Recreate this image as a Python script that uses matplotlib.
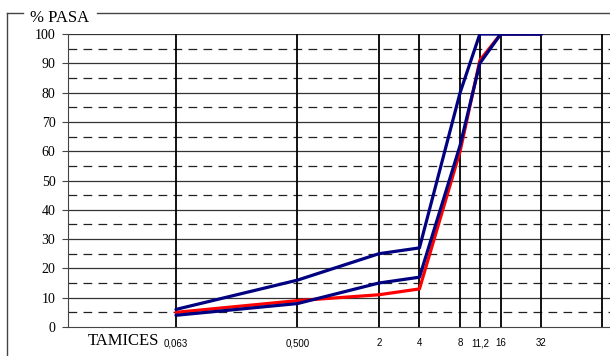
import numpy as np
import matplotlib.pyplot as plt
from matplotlib.lines import Line2D

# sieve openings (mm) and the three grading curves (% passing)
sieves = [0.063, 0.5, 2, 4, 8, 11.2, 16, 32]
sieve_labels = ['0,063', '0,500', '2', '4', '8', '11,2', '16', '32']
upper_limit = [6, 16, 25, 27, 80, 100, 100, 100]
lower_limit = [4, 8, 15, 17, 62, 90, 100, 100]
sample = [5, 9, 11, 13, 60, 91, 100, 100]
extra_line = [90]

serif = 'Liberation Serif'
sans = 'Liberation Sans'

fig = plt.figure(figsize=(6.1, 3.56), dpi=100)
ax = fig.add_axes([68/610, 29/356, 542/610, 293/356])

ax.set_xscale('log')
ax.set_xlim(0.01, 103)
ax.set_ylim(0, 100)

# horizontal grid: solid every 10, dashed in between
for v in range(10, 101, 10):
    ax.axhline(v, color='#333333', lw=0.9, zorder=1)
for v in range(5, 100, 10):
    ax.axhline(v, color='#222222', lw=0.9, ls=(0, (7, 5)), zorder=1)

# vertical lines at each sieve
for s in sieves + extra_line:
    ax.vlines(s, 0, 100, color='black', lw=1.3, zorder=2)

ax.plot(sieves, sample, color='#ff0000', lw=2.3, zorder=3, solid_capstyle='round')
ax.plot(sieves, lower_limit, color='#000080', lw=2.3, zorder=4, solid_capstyle='round')
ax.plot(sieves, upper_limit, color='#000080', lw=2.3, zorder=4, solid_capstyle='round')

ax.spines['top'].set_visible(False)
ax.spines['right'].set_visible(False)
ax.spines['left'].set_color('#444444')
ax.spines['bottom'].set_color('#444444')

ax.set_yticks(range(0, 101, 10))
ax.set_yticklabels([str(v) for v in range(0, 101, 10)], family=serif, fontsize=10)
ax.tick_params(axis='y', length=4, width=0.8, color='#444444', pad=5)

ax.set_xticks(sieves)
ax.set_xticklabels(sieve_labels, family=sans, fontsize=7)
ax.xaxis.set_minor_locator(plt.NullLocator())
ax.tick_params(axis='x', length=0, pad=8)

fig.text(88/610, 1 - 341/356, 'TAMICES', family=serif, fontsize=12, va='center', ha='left')
fig.text(30/610, 1 - 18/356, '% PASA', family=serif, fontsize=12, va='center', ha='left')

# outer frame, open at the top around the title
frame = dict(color='#444444', lw=1.0, transform=fig.transFigure)
fig.add_artist(Line2D([7/610, 7/610], [1 - 13/356, -0.1], **frame))
fig.add_artist(Line2D([7/610, 23/610], [1 - 13/356, 1 - 13/356], **frame))
fig.add_artist(Line2D([97/610, 1.1], [1 - 13/356, 1 - 13/356], **frame))

fig.savefig('out.png', dpi=100)
